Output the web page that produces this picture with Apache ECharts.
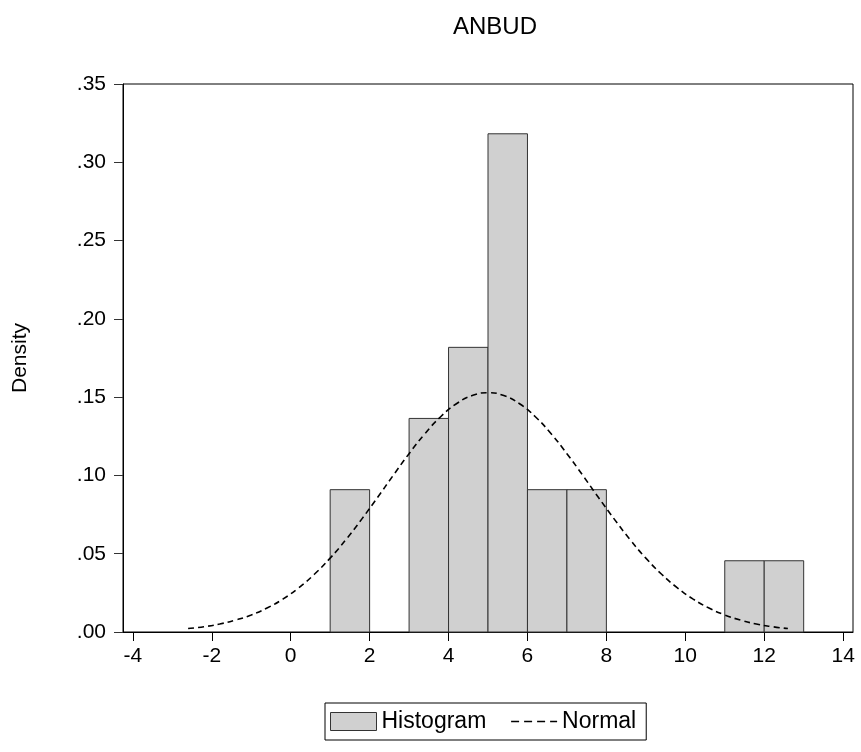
<!DOCTYPE html>
<html>
<head>
<meta charset="utf-8">
<script src="https://cdn.jsdelivr.net/npm/echarts@6/dist/echarts.min.js"></script>
<style>
html,body{margin:0;padding:0;background:#fff;}
#chart{width:861px;height:752px;}
</style>
</head>
<body>
<div id="chart"></div>
<script>
// Histogram bins: [start, end]
const binStarts = [1, 2, 3, 4, 5, 6, 7, 8, 9, 10, 11, 12];
const binEnds   = [2, 3, 4, 5, 6, 7, 8, 9, 10, 11, 12, 13];
const densities = [0.0909, 0, 0.1364, 0.1818, 0.3182, 0.0909, 0.0909, 0, 0, 0, 0.0455, 0.0455];

// Normal curve
const normalX = [-2.6,-2.2,-1.8,-1.4,-1.0,-0.6,-0.2,0.2,0.6,1.0,1.4,1.8,2.2,2.6,3.0,3.4,3.8,4.2,4.6,5.0,
                 5.4,5.8,6.2,6.6,7.0,7.4,7.8,8.2,8.6,9.0,9.4,9.8,10.2,10.6,11.0,11.4,11.8,12.2,12.6];
const normalY = [0.0022,0.0034,0.0051,0.0076,0.0109,0.0153,0.0210,0.0282,0.0369,0.0472,0.0590,0.0721,0.0859,0.1001,0.1139,0.1266,0.1375,0.1458,0.1510,0.1528,
                 0.1510,0.1458,0.1375,0.1266,0.1139,0.1001,0.0859,0.0721,0.0590,0.0472,0.0369,0.0282,0.0210,0.0153,0.0109,0.0076,0.0051,0.0034,0.0022];

const xTicks = [-4, -2, 0, 2, 4, 6, 8, 10, 12, 14];
const yTickLabels = ['.00', '.05', '.10', '.15', '.20', '.25', '.30', '.35'];

const histData = binStarts.map((s, i) => [s, binEnds[i], densities[i]]);
const normalData = normalX.map((x, i) => [x, normalY[i]]);

const FONT = 'Liberation Sans, Arial, sans-serif';
const chart = echarts.init(document.getElementById('chart'), null, {renderer: 'canvas'});
chart.setOption({
  animation: false,
  backgroundColor: '#ffffff',
  title: {
    text: 'ANBUD',
    left: 490, top: 10, textAlign: 'center',
    textStyle: {fontFamily: FONT, fontSize: 24, fontWeight: 'normal', color: '#000'}
  },
  grid: {
    left: 123, right: 8, top: 84, bottom: 120,
    show: true, borderColor: '#000', borderWidth: 1, backgroundColor: 'transparent'
  },
  legend: {
    top: 703, left: 325,
    borderColor: '#000', borderWidth: 1, padding: [7, 10, 7, 5],
    itemGap: 24, itemWidth: 46, itemHeight: 18,
    textStyle: {fontFamily: FONT, fontSize: 23, color: '#000'},
    data: [
      {name: 'Histogram', icon: 'rect', itemStyle: {color: '#d0d0d0', borderColor: '#333', borderWidth: 1}},
      {name: 'Normal', itemStyle: {opacity: 0}, lineStyle: {color: '#000', width: 1.6, type: [8, 5]}}
    ]
  },
  xAxis: {
    type: 'value', min: -4.25, max: 14.25,
    axisLine: {show: true, onZero: false, lineStyle: {color: '#000', width: 1}},
    axisTick: {show: true, length: 9, lineStyle: {color: '#000'}, customValues: xTicks},
    axisLabel: {fontFamily: FONT, fontSize: 21, color: '#000', margin: 14, customValues: xTicks},
    splitLine: {show: false}
  },
  yAxis: {
    type: 'value', min: 0, max: 0.35, interval: 0.05,
    name: 'Density', nameLocation: 'middle', nameGap: 92, nameRotate: 90,
    nameTextStyle: {fontFamily: FONT, fontSize: 21, color: '#000'},
    axisLine: {show: true, onZero: false, lineStyle: {color: '#000', width: 1}},
    axisTick: {show: true, length: 9, lineStyle: {color: '#333'}},
    axisLabel: {
      fontFamily: FONT, fontSize: 21, color: '#000', margin: 17,
      formatter: (v) => yTickLabels[Math.round(v / 0.05)]
    },
    splitLine: {show: false}
  },
  series: [
    {
      name: 'Histogram',
      type: 'custom',
      data: histData,
      encode: {x: [0, 1], y: 2},
      itemStyle: {color: '#d0d0d0', borderColor: '#333', borderWidth: 1},
      renderItem: function (params, api) {
        const p0 = api.coord([api.value(0), 0]);
        const p1 = api.coord([api.value(1), api.value(2)]);
        if (api.value(2) <= 0) return null;
        return {
          type: 'rect',
          shape: {x: p0[0], y: p1[1], width: p1[0] - p0[0], height: p0[1] - p1[1]},
          style: {fill: '#d0d0d0', stroke: '#333', lineWidth: 1}
        };
      }
    },
    {
      name: 'Normal',
      type: 'line',
      data: normalData,
      smooth: true,
      symbol: 'none',
      itemStyle: {color: '#000'},
      lineStyle: {color: '#000', width: 1.6, type: [6, 4]},
      z: 5
    }
  ]
});
</script>
</body>
</html>
